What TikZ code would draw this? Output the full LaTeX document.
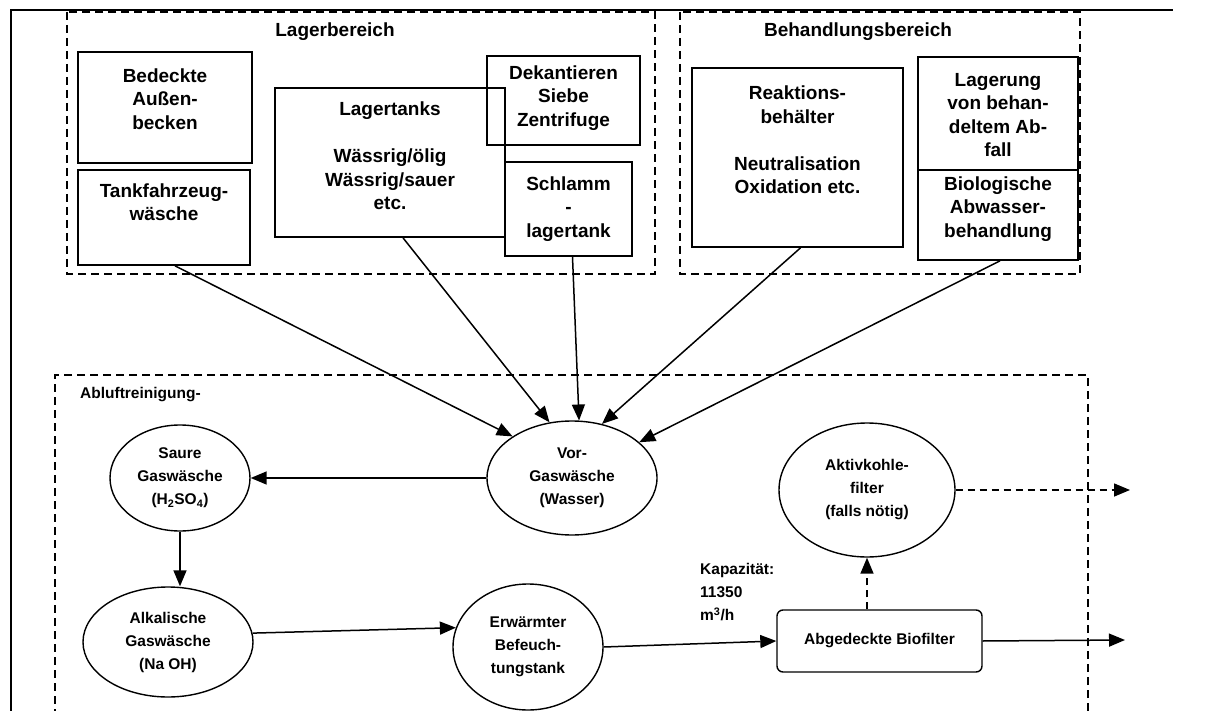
\documentclass[tikz,border=0pt]{standalone}
\usepackage{fontspec}
\setmainfont{Liberation Sans}
\usetikzlibrary{arrows.meta,shapes.geometric,calc}
\begin{document}
\begin{tikzpicture}[x=1pt,y=-1pt,
  every node/.style={font=\bfseries\fontsize{15.5}{23}\selectfont, align=center, inner sep=0pt},
  big/.style={font=\bfseries\fontsize{19}{23.5}\selectfont},
  box/.style={draw, line width=1.7pt, rectangle},
  area/.style={draw, line width=1.6pt, dash pattern=on 8pt off 5pt},
  ell/.style={draw, line width=1.4pt, ellipse},
  arr/.style={line width=1.5pt, -{Triangle[length=16pt,width=13pt]}},
  darr/.style={arr, dash pattern=on 7pt off 5pt}
]
\useasboundingbox (0,0) rectangle (1223,711);
% outer frame
\draw[line width=1.3pt] (11,711) -- (11,10) -- (1173,10);
% areas
\draw[area] (67,12) rectangle (655,274);
\draw[area] (680,12) rectangle (1080,274);
\draw[area] (1088,711) -- (1088,375) -- (55,375) -- (55,711);
\node[big] (lagerlbl) at (335,32) {Lagerbereich};
\node[big] (behlbl) at (858,32) {Behandlungsbereich};
\node[anchor=west] (abllbl) at (80,395) {Abluftreinigung-};
% Lagerbereich boxes
\node[box, minimum width=174pt, minimum height=111pt] (bed) at (165,107.5) {};
\node[big] (bedt) at (165,99) {Bedeckte\\Außen-\\becken};
\node[box, minimum width=172pt, minimum height=95pt] (tank) at (164,217.5) {};
\node[big] (tankt) at (164,202) {Tankfahrzeug-\\wäsche};
\node[box, minimum width=230pt, minimum height=149pt] (lager) at (390,162.5) {};
\node[big] (lagert) at (390,156) {Lagertanks\\[23.5pt]Wässrig/ölig\\Wässrig/sauer\\etc.};
\node[box, minimum width=153pt, minimum height=89pt] (dek) at (563.5,100.5) {};
\node[big] (dekt) at (563.5,98) {Dekantieren\\Siebe\\Zentrifuge};
\node[box, minimum width=127pt, minimum height=94pt] (schl) at (568.5,209) {};
\node[big] (schlt) at (568.5,209) {Schlamm\\-\\lagertank};
% Behandlungsbereich boxes
\node[box, minimum width=211pt, minimum height=179pt] (reak) at (797.5,157.5) {};
\node[big] (reakt) at (797.5,140) {Reaktions-\\behälter\\[23.5pt]Neutralisation\\Oxidation etc.};
\node[box, minimum width=160pt, minimum height=113pt] (lagb) at (998,113.5) {};
\node[big] (lagbt) at (998,115) {Lagerung\\von behan-\\deltem Ab-\\fall};
\node[box, minimum width=160pt, minimum height=90pt] (bio) at (998,215) {};
\node[big] (biot) at (998,209) {Biologische\\Abwasser-\\behandlung};
% Abluft
\node[ell, minimum width=140pt, minimum height=106pt] (saure) at (180,478) {Saure\\Gaswäsche\\(H\textsubscript{2}SO\textsubscript{4})};
\node[ell, minimum width=170pt, minimum height=114pt] (vor) at (572,478) {Vor-\\Gaswäsche\\(Wasser)};
\node[ell, minimum width=170pt, minimum height=110pt] (alk) at (168,642) {Alkalische\\Gaswäsche\\(Na OH)};
\node[ell, minimum width=150pt, minimum height=126pt] (erw) at (528,647) {Erwärmter\\Befeuch-\\tungstank};
\node[ell, minimum width=176pt, minimum height=134pt] (akt) at (867,490) {Aktivkohle-\\filter\\(falls nötig)};
\node[box, rounded corners=6pt, line width=1.4pt, minimum width=205pt, minimum height=62pt] (biof) at (879.5,641) {Abgedeckte Biofilter};
\node[anchor=west, align=left] (kap) at (700,592) {Kapazität:\\11350\\m\textsuperscript{3}/h};
\coordinate (out1) at (1130,490);
\coordinate (out2) at (1125,640);
% arrows
\draw[arr] ($(tank.south)+(11,0)$) -- (vor.145);
\draw[arr] ($(lager.south)+(13,0)$) -- (vor.112);
\draw[arr] ($(schl.south)+(4,0)$) -- (vor.83);
\draw[arr] ($(reak.south)+(3,0)$) -- (vor.61);
\draw[arr] ($(bio.south)+(2,0)$) -- (vor.28);
\draw[arr] (vor.west) -- (saure.east);
\draw[arr] (saure.south) -- (alk.north -| saure.south);
\draw[arr] (alk.6) -- (erw.165);
\draw[arr] (erw.east) -- (biof.west);
\draw[darr] (biof.north -| akt.south) -- (akt.south);
\draw[darr] (akt.east) -- (out1);
\draw[arr] (biof.east) -- (out2);
\end{tikzpicture}
\end{document}
